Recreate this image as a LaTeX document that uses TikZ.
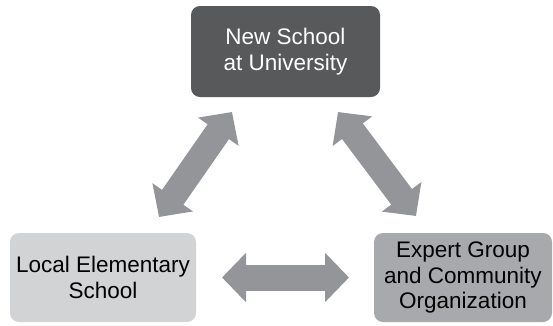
\documentclass[tikz,border=0pt]{standalone}
\usepackage{fontspec}
\setmainfont{Liberation Sans}
\usetikzlibrary{arrows.meta, positioning}
\definecolor{topgray}{HTML}{58595B}
\definecolor{leftgray}{HTML}{D1D3D4}
\definecolor{rightgray}{HTML}{A7A9AC}
\definecolor{arrowgray}{HTML}{939598}
\begin{document}
\begin{tikzpicture}[x=1pt,y=-1pt]

\tikzset{box/.style = {shape=rectangle, rounded corners=9pt, inner sep=0pt, outer sep=0pt, align=center, font=\fontsize{22.5}{25.5}\selectfont}}
\tikzset{link/.style = {draw=arrowgray, line width=26pt, {Triangle[width=48pt,length=24pt]}-{Triangle[width=48pt,length=24pt]}}}
\useasboundingbox (0,0) rectangle (553,325);
% vertices
\node[box, fill=topgray, text=white, minimum width=189pt, minimum height=91pt] (newschool) at (285.5,51.5) {New School\\at University};
\node[box, fill=leftgray, minimum width=186pt, minimum height=89pt] (local) at (103,277.5) {Local Elementary\\School};
\node[box, fill=rightgray, minimum width=178pt, minimum height=89pt] (expert) at (463,277.5) {Expert Group\\and Community\\Organization};
%edges
\draw [link] ([xshift=41pt,yshift=-15pt]newschool.south west) -- ([xshift=-37pt,yshift=16pt]local.north east);
\draw [link] ([xshift=-42pt,yshift=-15pt]newschool.south east) -- ([xshift=42pt,yshift=17pt]expert.north west);
\draw [link, shorten <=26pt, shorten >=25pt] (local) -- (expert);
\end{tikzpicture}
\end{document}
